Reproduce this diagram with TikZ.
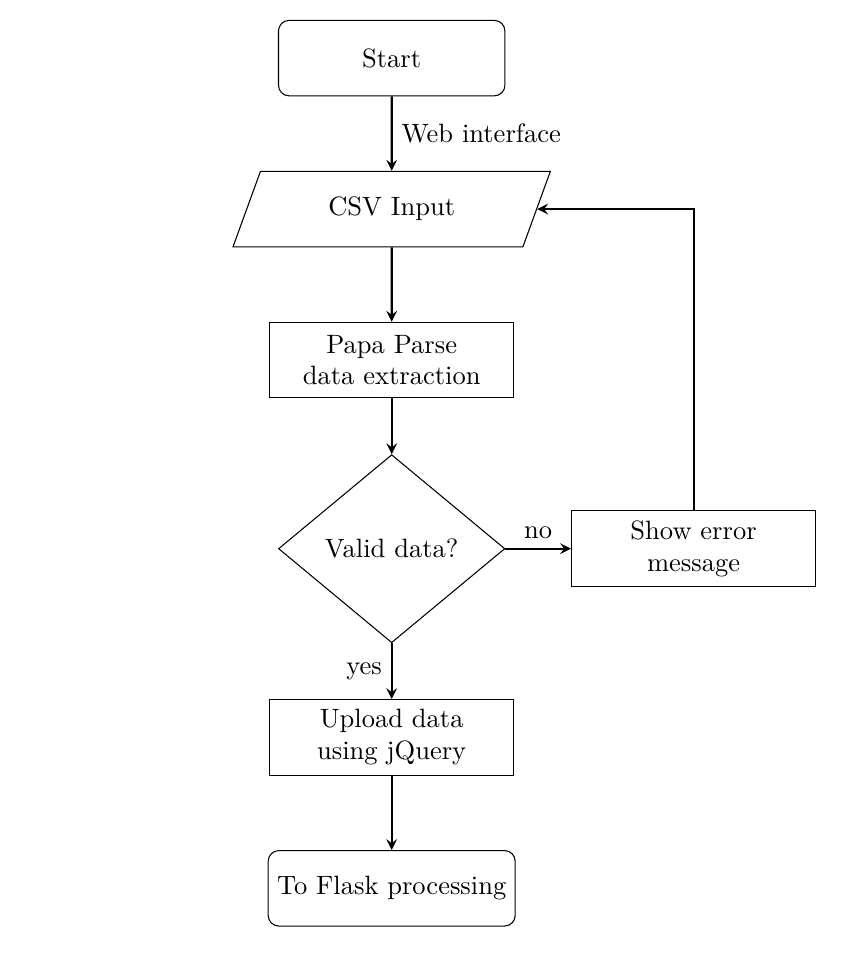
\documentclass[tikz,border=0pt]{standalone}
\usepackage{tikz}
\usetikzlibrary{shapes.geometric, arrows, positioning}

\tikzset{
  startstop/.style={rectangle, rounded corners, minimum width=3cm, minimum height=1cm, align=center, draw=black},
  io/.style={trapezium, trapezium left angle=70, trapezium right angle=110, minimum width=3cm, minimum height=1cm, align=center, draw=black},
  process/.style={rectangle, minimum width=3cm, minimum height=1cm, text width=3cm, align=center, draw=black},
  decision/.style={diamond, minimum width=3cm, minimum height=1cm, align=center, draw=black},
  arrow/.style={thick, ->, >=stealth}
}

\begin{document}
\begin{tikzpicture}[node distance=2cm, on grid]
    \useasboundingbox (-5.19,0.77) rectangle (6.04,-11.95);
    \node[startstop] (start) {Start};
    \node[io, below=of start] (csv) {CSV Input};
    \node[process, below=of csv] (parse) {Papa Parse\\data extraction};
    \node[decision, below=2.5cm of parse] (valid) {Valid data?};
    \node[process, right=4cm of valid] (error) {Show error\\message};
    \node[process, below=2.5cm of valid] (upload) {Upload data\\using jQuery};
    \node[startstop, below=of upload] (flask) {To Flask processing};
    \draw[arrow] (start) -- node[anchor=west] {Web interface} (csv);
    \draw[arrow] (csv) -- (parse);
    \draw[arrow] (parse) -- (valid);
    \draw[arrow] (valid) -- node[anchor=south] {no} (error);
    \draw[arrow] (valid) -- node[anchor=east] {yes} (upload);
    \draw[arrow] (error) |- (csv);
    \draw[arrow] (upload) -- (flask);
  \end{tikzpicture}
\end{document}
